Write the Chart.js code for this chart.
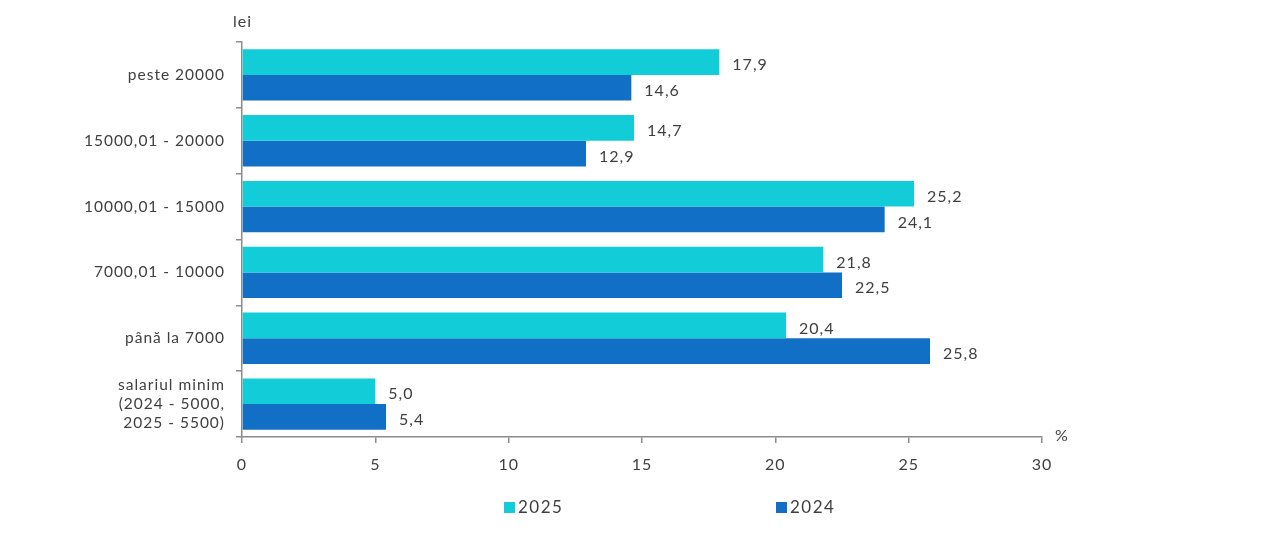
<!DOCTYPE html>
<html lang="ro">
<head>
    <meta charset="UTF-8">
    <title>Salarii</title>
    <script src="https://cdn.jsdelivr.net/npm/chart.js"></script>
    <style>
        html, body { margin: 0; padding: 0; background: #fff; }
        .wrap { position: relative; width: 1280px; height: 539px; }
        .legend { position: absolute; top: 496px; font-family: Lato, sans-serif; font-size: 17px; letter-spacing: 1.5px; color: #404040; }
        .legend span.box { display: inline-block; width: 11px; height: 11px; margin-right: 3px; vertical-align: 0px; }
    </style>
</head>
<body>
    <div class="wrap">
        <canvas id="chart" width="1280" height="539"></canvas>
        <!-- legend drawn in html, the two items are far apart -->
        <div class="legend" style="left:504px"><span class="box" style="background:#12CCD8"></span>2025</div>
        <div class="legend" style="left:776px"><span class="box" style="background:#1170C6"></span>2024</div>
    </div>

    <script>
        const categories = [
            'peste 20000',
            '15000,01 - 20000',
            '10000,01 - 15000',
            '7000,01 - 10000',
            'până la 7000',
            ['salariul minim', '(2024 - 5000,', '2025 - 5500)']
        ];
        const values2025 = [17.9, 14.7, 25.2, 21.8, 20.4, 5.0];
        const values2024 = [14.6, 12.9, 24.1, 22.5, 25.8, 5.4];
        const xTicks = [0, 5, 10, 15, 20, 25, 30];

        const textColor = '#404040';
        const axisColor = '#8c8c8c';
        const fontFamily = 'Lato, sans-serif';

        // the original font is wider, spread the letters a bit
        const spacing = {
            id: 'spacing',
            beforeDraw(chart) { chart.ctx.letterSpacing = '1px'; }
        };

        // value labels at the end of each bar, romanian decimal comma
        const valueLabels = {
            id: 'valueLabels',
            afterDatasetsDraw(chart) {
                const ctx = chart.ctx;
                ctx.save();
                ctx.font = '16px ' + fontFamily;
                ctx.fillStyle = textColor;
                ctx.textBaseline = 'middle';
                ctx.textAlign = 'left';
                chart.data.datasets.forEach((ds, i) => {
                    chart.getDatasetMeta(i).data.forEach((bar, j) => {
                        const txt = ds.data[j].toFixed(1).replace('.', ',');
                        ctx.fillText(txt, bar.x + 13, bar.y + 3);
                    });
                });
                ctx.restore();
            }
        };

        // unit labels "lei" and "%"
        const unitLabels = {
            id: 'unitLabels',
            afterDraw(chart) {
                const ctx = chart.ctx;
                const area = chart.chartArea;
                ctx.save();
                ctx.font = '16px ' + fontFamily;
                ctx.fillStyle = textColor;
                ctx.textBaseline = 'middle';
                ctx.textAlign = 'left';
                ctx.fillText('lei', area.left - 9, 22);
                ctx.fillText('%', area.right + 13, area.bottom - 1);
                ctx.restore();
            }
        };

        new Chart(document.getElementById('chart'), {
            type: 'bar',
            data: {
                labels: categories,
                datasets: [
                    { label: '2025', data: values2025, backgroundColor: '#12CCD8' },
                    { label: '2024', data: values2024, backgroundColor: '#1170C6' }
                ]
            },
            options: {
                indexAxis: 'y',
                responsive: false,
                animation: false,
                layout: { padding: { top: 42, right: 238, left: 0, bottom: 0 } },
                categoryPercentage: 0.78,
                barPercentage: 1.0,
                plugins: {
                    legend: { display: false },
                    tooltip: { enabled: false }
                },
                scales: {
                    x: {
                        min: 0,
                        max: 30,
                        afterBuildTicks(scale) {
                            scale.ticks = xTicks.map(v => ({ value: v }));
                        },
                        afterFit(scale) { scale.height = 102; },
                        border: { color: axisColor, width: 1.5 },
                        grid: { drawOnChartArea: false, drawTicks: true, tickLength: 6, color: axisColor, lineWidth: 1.5 },
                        ticks: { color: textColor, font: { family: fontFamily, size: 16 }, padding: 12 }
                    },
                    y: {
                        afterFit(scale) { scale.width = 242; },
                        border: { color: axisColor, width: 1.5 },
                        grid: { drawOnChartArea: false, drawTicks: true, tickLength: 6, color: axisColor, lineWidth: 1.5, offset: true },
                        ticks: { color: textColor, font: { family: fontFamily, size: 15.5, lineHeight: 1.2 }, padding: 11 }
                    }
                }
            },
            plugins: [spacing, valueLabels, unitLabels]
        });
    </script>
</body>
</html>
